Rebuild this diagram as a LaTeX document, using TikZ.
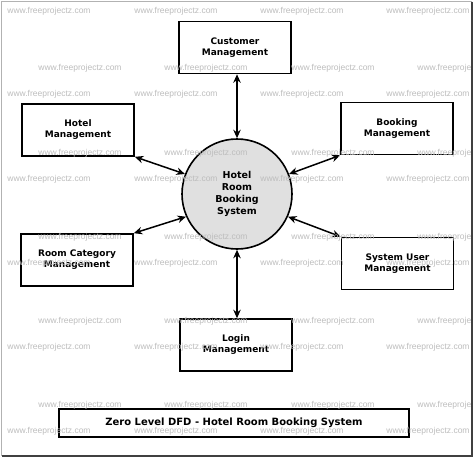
\documentclass[tikz,border=0pt]{standalone}
\usepackage{fontspec}
\setmainfont{DejaVu Sans}
\newfontfamily\wmfont{Liberation Sans}
\usetikzlibrary{arrows.meta}
\definecolor{wmgray}{HTML}{BDBDBD}
\definecolor{circfill}{HTML}{E0E0E0}
\tikzset{
  entbox/.style={draw=black, line width=1.6pt, minimum width=112pt, minimum height=52pt,
    align=center, inner sep=0pt, font=\bfseries\fontsize{9}{11}\selectfont},
  procnode/.style={circle, draw=black, line width=1.6pt, fill=circfill, minimum size=110pt,
    align=center, inner sep=0pt, font=\bfseries\fontsize{9.5}{12}\selectfont},
  titlebox/.style={draw=black, line width=1.6pt, minimum width=350pt, minimum height=28pt,
    inner sep=0pt, font=\bfseries\fontsize{10}{12}\selectfont},
  flow/.style={line width=1.5pt, {Stealth[length=8.5pt,width=7.5pt]}-{Stealth[length=8.5pt,width=7.5pt]}},
  wm/.style={text=wmgray, font=\wmfont\fontsize{8.5}{10}\selectfont, inner sep=0pt}
}
\begin{document}
\begin{tikzpicture}[x=1pt,y=-1pt]
\useasboundingbox (0,0) rectangle (474,458);
\fill[white] (0,0) rectangle (474,458);
% frame
\draw[gray!60, line width=1.5pt] (1.5,1.5) rectangle (471.5,455.5);
\draw[black!75, line width=2pt] (471.5,1.5) -- (471.5,455.5) -- (1.5,455.5);

\node[entbox] (cust) at (235,47.5) {Customer\\Management};
\node[entbox] (hotel) at (78,130) {Hotel\\Management};
\node[entbox] (book) at (397,128.5) {Booking\\Management};
\node[entbox] (room) at (77,260) {Room Category\\Management};
\node[entbox] (sysu) at (397.5,263.5) {System User\\Management};
\node[entbox] (login) at (236,345) {Login\\Management};
\node[procnode] (circ) at (237,194) {Hotel\\Room\\Booking\\System};
\node[titlebox] (title) at (234,423) {Zero Level DFD - Hotel Room Booking System};

\draw[flow] (circ.north |- cust.south) -- (circ.north);
\draw[flow] (hotel.south east) -- (circ.159);
\draw[flow] (book.south west) -- (circ.21);
\draw[flow] (room.north east) -- (circ.204);
\draw[flow] (sysu.north west) -- (circ.336);
\draw[flow] (circ.south) -- (circ.south |- login.north);

% watermarks
\begin{scope}
\clip (3,3) rectangle (470.5,454.5);
\foreach \yy [count=\i] in {11,94,179,263,347,431}{
  \foreach \xx [count=\j] in {49,176,302,428}{
    \node[wm] (wa\i\j) at (\xx,\yy) {www.freeprojectz.com};
  }
}
\foreach \yy [count=\i] in {68,153,237,321,405}{
  \foreach \xx [count=\j] in {80,206,333,459}{
    \node[wm] (wb\i\j) at (\xx,\yy) {www.freeprojectz.com};
  }
}
\end{scope}
\end{tikzpicture}
\end{document}
